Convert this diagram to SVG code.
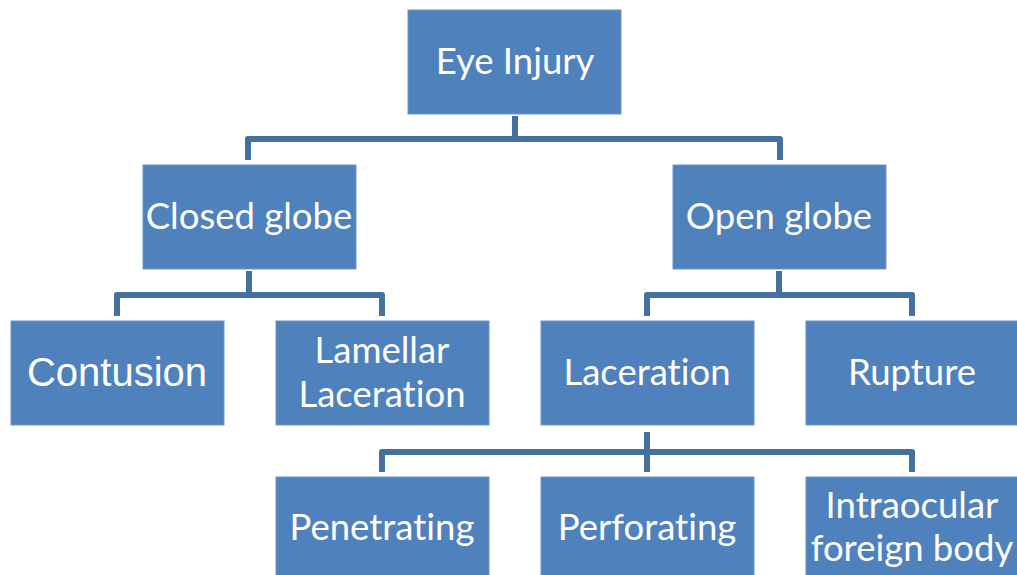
<svg xmlns="http://www.w3.org/2000/svg" width="1017" height="575" viewBox="0 0 1017 575">
<style>
.box{fill:#4F81BD;stroke:#6F95C8;stroke-width:1}
.t{fill:#fff;font-family:Lato,"Open Sans",sans-serif;font-size:36.5px;text-anchor:middle;font-variant-ligatures:none}
.ta{fill:#fff;font-family:"Liberation Sans",Arial,sans-serif;font-size:40px;text-anchor:middle}
.c{fill:none;stroke:#4470A0;stroke-width:6;stroke-linejoin:round}
</style>
<rect width="1017" height="575" fill="#fff"/>
<g id="connectors">
<path class="c" d="M515,116 V139 M248,160 V139 H780 V160"/>
<path class="c" d="M249,271 V295 M117,316 V295 H382 V316"/>
<path class="c" d="M779,271 V295 M647,316 V295 H912 V316"/>
<path class="c" d="M647,432 V472 M382,472 V452 H912 V472"/>
</g>
<g id="eye-injury"><rect class="box" x="408" y="10" width="213" height="104"/><text class="t" x="515" y="74">Eye Injury</text></g>
<g id="closed-globe"><rect class="box" x="143" y="165" width="213" height="104"/><text class="t" x="249" y="229">Closed globe</text></g>
<g id="open-globe"><rect class="box" x="673" y="165" width="213" height="104"/><text class="t" x="779" y="229">Open globe</text></g>
<g id="contusion"><rect class="box" x="11" y="321" width="213" height="104"/><text class="ta" x="117" y="386">Contusion</text></g>
<g id="lamellar-laceration"><rect class="box" x="276" y="321" width="213" height="104"/><text class="t" x="382" y="363">Lamellar</text><text class="t" x="382" y="407">Laceration</text></g>
<g id="laceration"><rect class="box" x="541" y="321" width="213" height="104"/><text class="t" x="647" y="385">Laceration</text></g>
<g id="rupture"><rect class="box" x="806" y="321" width="213" height="104"/><text class="t" x="912" y="385">Rupture</text></g>
<g id="penetrating"><rect class="box" x="276" y="477" width="213" height="104"/><text class="t" x="382" y="540">Penetrating</text></g>
<g id="perforating"><rect class="box" x="541" y="477" width="213" height="104"/><text class="t" x="647" y="540">Perforating</text></g>
<g id="intraocular"><rect class="box" x="806" y="477" width="213" height="104"/><text class="t" x="912" y="518">Intraocular</text><text class="t" x="912" y="561">foreign body</text></g>
</svg>
